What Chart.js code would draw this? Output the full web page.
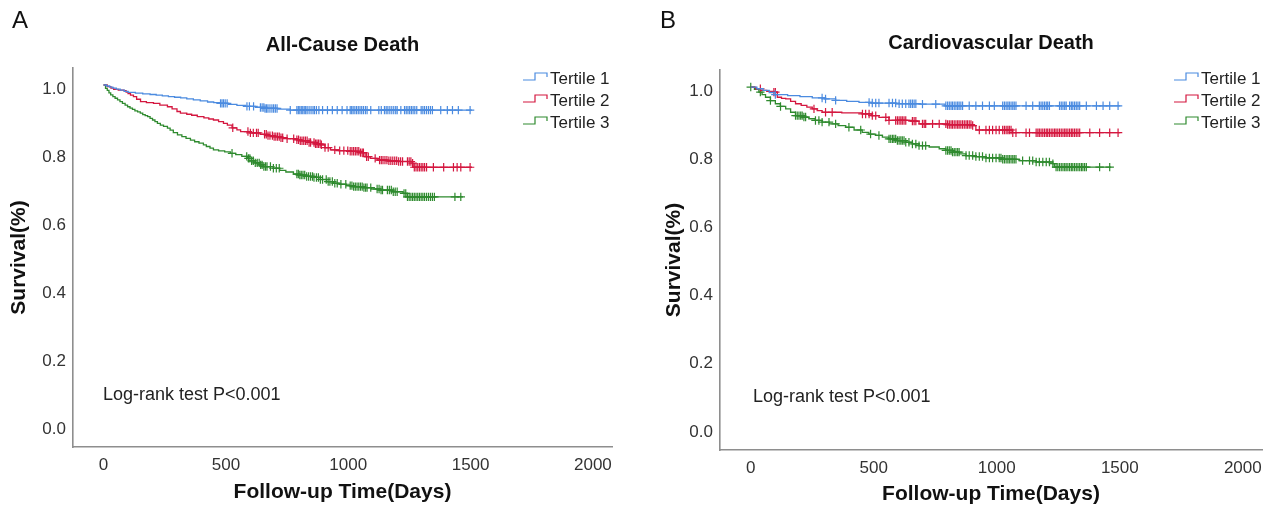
<!DOCTYPE html>
<html><head><meta charset="utf-8">
<script src="https://cdn.jsdelivr.net/npm/chart.js@4.4.1/dist/chart.umd.min.js"></script>
<style>
html,body{margin:0;padding:0;background:#fff;}
#wrap{position:relative;width:1272px;height:507px;overflow:hidden;background:#fff;}
#c1{position:absolute;left:0;top:0;width:650px;height:507px;}
#c2{position:absolute;left:650px;top:0;width:622px;height:507px;}
</style></head><body>
<div id="wrap"><canvas id="c1" width="650" height="507"></canvas><canvas id="c2" width="622" height="507"></canvas></div>
<script>
const seriesNames = ['Tertile 1', 'Tertile 2', 'Tertile 3'];
const seriesColors = ['#4b8be0', '#d4173f', '#2e8a2e'];
const xTicks = [0, 500, 1000, 1500, 2000];
const yTicks = [0, 0.2, 0.4, 0.6, 0.8, 1.0];

// Panel A: All-Cause Death
const acT1Time = [0,12,25,38,52,68,85,100,130,160,190,215,240,265,290,315,340,367,395,425,450,475,510,545,580,620,660,710,763,1506];
const acT1Surv = [1,0.997,0.994,0.991,0.988,0.985,0.981,0.978,0.976,0.974,0.972,0.970,0.968,0.966,0.964,0.962,0.959,0.956,0.953,0.950,0.948,0.946,0.943,0.940,0.937,0.934,0.931,0.929,0.926,0.926];
const acT1Cens = [478,484,490,497,505,586,596,613,641,648,655,660,666,672,680,688,695,702,709,763,790,796,802,808,814,820,826,832,840,848,856,862,870,880,895,915,935,955,975,995,1008,1014,1020,1027,1034,1041,1048,1055,1062,1070,1077,1092,1125,1135,1148,1155,1162,1170,1178,1186,1194,1200,1215,1230,1237,1244,1251,1258,1265,1272,1280,1298,1305,1312,1320,1328,1336,1344,1378,1405,1426,1450,1498];

const acT2Time = [0,15,30,41,60,83,92,100,110,122,135,151,175,204,230,261,280,300,314,340,360,383,410,430,449,470,490,506,525,545,560,600,640,670,694,720,750,780,804,840,865,886,905,927,960,1000,1049,1069,1090,1118,1160,1200,1261,1265,1506];
const acT2Surv = [1,0.995,0.991,0.987,0.985,0.983,0.979,0.975,0.970,0.966,0.958,0.951,0.948,0.946,0.941,0.936,0.930,0.922,0.917,0.914,0.911,0.907,0.903,0.900,0.897,0.892,0.887,0.882,0.874,0.868,0.863,0.859,0.855,0.851,0.848,0.845,0.842,0.839,0.836,0.831,0.827,0.824,0.816,0.809,0.807,0.805,0.801,0.789,0.784,0.779,0.777,0.775,0.770,0.758,0.758];
const acT2Cens = [528,590,600,612,625,632,658,665,672,680,690,697,704,711,718,725,732,750,777,790,797,804,811,818,825,832,840,846,860,866,872,878,885,890,905,918,945,965,982,998,1008,1015,1022,1029,1036,1043,1050,1057,1062,1075,1082,1110,1128,1135,1142,1150,1158,1166,1174,1182,1190,1198,1206,1214,1222,1242,1249,1256,1263,1270,1277,1284,1291,1298,1305,1312,1320,1348,1390,1430,1445,1460,1498];

const acT3Time = [0,8,15,22,29,38,47,57,67,77,88,98,108,118,128,139,150,160,170,180,190,200,210,220,232,245,261,272,285,302,320,337,355,372,390,408,420,435,449,470,495,518,540,565,588,605,620,638,653,694,720,745,776,800,830,857,885,912,939,965,992,1020,1060,1095,1131,1180,1224,1241,1469];
const acT3Surv = [1,0.99,0.984,0.977,0.971,0.966,0.961,0.956,0.951,0.946,0.941,0.936,0.932,0.928,0.924,0.921,0.917,0.913,0.910,0.907,0.902,0.897,0.892,0.887,0.882,0.878,0.873,0.867,0.860,0.853,0.848,0.843,0.838,0.833,0.829,0.824,0.819,0.814,0.809,0.806,0.803,0.799,0.795,0.790,0.784,0.777,0.771,0.765,0.760,0.755,0.749,0.744,0.738,0.735,0.731,0.728,0.722,0.716,0.711,0.708,0.704,0.701,0.698,0.694,0.691,0.686,0.681,0.671,0.671];
const acT3Cens = [525,585,592,598,605,612,620,628,636,642,648,655,662,668,682,694,706,718,790,796,802,808,815,822,830,838,846,854,860,870,878,886,895,910,918,925,935,945,955,970,990,1008,1015,1022,1029,1036,1043,1050,1057,1064,1071,1077,1092,1118,1126,1134,1140,1160,1168,1176,1184,1192,1200,1228,1235,1242,1249,1256,1263,1270,1277,1284,1291,1298,1305,1312,1320,1328,1336,1344,1352,1436,1460];

// Panel B: Cardiovascular Death
const cvT1Time = [0,25,50,75,100,150,200,250,300,345,390,440,490,590,690,790,1502];
const cvT1Surv = [1,0.995,0.99,0.984,0.978,0.975,0.972,0.968,0.965,0.961,0.958,0.955,0.953,0.951,0.95,0.945,0.945];
const cvT1Cens = [100,290,304,345,481,494,508,521,562,576,589,603,616,630,643,650,657,664,671,698,752,793,800,807,814,820,827,834,841,847,854,861,888,915,942,970,990,1024,1031,1038,1045,1051,1058,1065,1071,1078,1119,1146,1173,1180,1187,1194,1201,1207,1214,1255,1262,1269,1276,1282,1296,1303,1309,1316,1323,1330,1337,1364,1405,1432,1459,1493];

const cvT2Time = [0,20,40,65,88,108,125,142,162,182,205,228,250,270,290,370,453,490,521,562,657,684,800,900,915,1064,1502];
const cvT2Surv = [1,0.995,0.99,0.987,0.985,0.97,0.967,0.965,0.958,0.951,0.946,0.941,0.936,0.931,0.926,0.924,0.921,0.916,0.911,0.902,0.9,0.892,0.89,0.887,0.874,0.866,0.866];
const cvT2Cens = [39,94,100,257,304,331,454,467,481,494,508,549,562,589,596,603,610,616,623,630,657,664,671,698,705,711,739,766,793,800,807,814,820,827,834,841,847,854,861,868,875,881,888,895,902,929,956,970,983,997,1010,1024,1031,1038,1045,1051,1058,1065,1078,1119,1133,1160,1167,1173,1180,1187,1194,1201,1207,1214,1221,1228,1235,1241,1248,1255,1262,1269,1276,1282,1289,1296,1303,1309,1316,1323,1330,1337,1378,1418,1459,1493];

const cvT3Time = [0,15,33,46,60,80,100,120,142,162,182,210,236,262,290,320,355,386,420,453,480,508,535,562,596,630,657,684,725,766,793,820,848,875,915,956,1020,1092,1160,1227,1234,1465];
const cvT3Surv = [1,0.993,0.985,0.978,0.97,0.96,0.951,0.943,0.936,0.926,0.916,0.912,0.907,0.902,0.897,0.892,0.887,0.882,0.874,0.867,0.862,0.858,0.853,0.848,0.843,0.838,0.833,0.828,0.824,0.819,0.814,0.809,0.804,0.799,0.796,0.792,0.788,0.784,0.780,0.775,0.765,0.765];
const cvT3Cens = [0,39,80,121,182,189,196,203,209,216,223,263,277,290,318,345,399,447,487,521,562,569,576,582,589,596,603,610,616,623,630,643,657,671,684,698,711,793,800,807,814,820,827,834,841,847,875,888,902,915,929,942,956,970,983,997,1010,1017,1024,1031,1038,1045,1051,1058,1065,1071,1078,1105,1133,1146,1160,1173,1187,1201,1214,1228,1241,1248,1255,1262,1269,1276,1282,1289,1296,1303,1309,1316,1323,1330,1337,1344,1350,1357,1364,1418,1459];

const FONT = "'Liberation Sans', Arial, sans-serif";

function survAt(times, surv, t) {
  let s = surv[0];
  for (let i = 0; i < times.length; i++) { if (times[i] <= t) s = surv[i]; else break; }
  return s;
}

function buildDatasets(groups) {
  const ds = [];
  groups.forEach((g, i) => {
    ds.push({
      label: seriesNames[i],
      data: g.time.map((t, k) => ({x: t, y: g.surv[k]})),
      showLine: true, stepped: 'before',
      borderColor: seriesColors[i], borderWidth: 1.3,
      pointRadius: 0, pointHoverRadius: 0, fill: false
    });
  });
  groups.forEach((g, i) => {
    ds.push({
      label: seriesNames[i] + ' censored',
      data: g.cens.map(t => ({x: t, y: survAt(g.time, g.surv, t)})),
      showLine: false, pointStyle: 'cross', pointRadius: 4.2, pointHoverRadius: 0,
      borderColor: seriesColors[i], backgroundColor: seriesColors[i], borderWidth: 1.2
    });
  });
  return ds;
}

const decor = {
  id: 'decor',
  afterDraw(chart, args, o) {
    const ctx = chart.ctx;
    ctx.save();
    ctx.fillStyle = '#111';
    ctx.textBaseline = 'middle';
    ctx.textAlign = 'left';
    ctx.font = '24px ' + FONT;
    ctx.fillText(o.letter, o.letterX, o.letterY);
    ctx.font = '18px ' + FONT;
    ctx.fillStyle = '#222';
    ctx.fillText(o.logText, o.logX, o.logY);
    ctx.font = '17px ' + FONT;
    seriesNames.forEach((n, i) => {
      const y = o.legY[i];
      const x0 = o.legX;
      ctx.strokeStyle = seriesColors[i];
      ctx.lineWidth = 1.2;
      ctx.beginPath();
      ctx.moveTo(x0, y + 2);
      ctx.lineTo(x0 + 12, y + 2);
      ctx.lineTo(x0 + 12, y - 5);
      ctx.lineTo(x0 + 24, y - 5);
      ctx.lineTo(x0 + 24, y - 1);
      ctx.stroke();
      ctx.fillStyle = '#222';
      ctx.fillText(n, x0 + 27, y + 1);
    });
    ctx.restore();
  }
};

function makeChart(id, cfg) {
  return new Chart(document.getElementById(id), {
    type: 'scatter',
    data: {datasets: buildDatasets(cfg.groups)},
    plugins: [decor],
    options: {
      responsive: false, animation: false, events: [],
      layout: {padding: {top: cfg.padTop, left: 0, right: cfg.padRight, bottom: 0}},
      plugins: {
        legend: {display: false}, tooltip: {enabled: false},
        title: {display: true, text: cfg.title, fullSize: false, color: '#111',
          font: {family: FONT, size: 20, weight: 'bold'}, padding: {top: cfg.tPadTop, bottom: cfg.tPadBottom}},
        decor: cfg.decor
      },
      scales: {
        x: {
          type: 'linear', min: -125, max: 2078,
          afterBuildTicks: s => { s.ticks = xTicks.map(v => ({value: v})); },
          afterFit: s => { s.height = cfg.xHeight; },
          grid: {display: false, drawTicks: false},
          border: {display: true, color: '#8e8e8e', width: 1.6},
          ticks: {color: '#333', font: {family: FONT, size: 17}, padding: 8, maxRotation: 0, autoSkip: false,
            callback: v => String(v)},
          title: {display: true, text: 'Follow-up Time(Days)', color: '#111',
            font: {family: FONT, size: 21, weight: 'bold'}, padding: {top: 0, bottom: cfg.xtPad}}
        },
        y: {
          type: 'linear', min: -0.065, max: 1.05,
          afterBuildTicks: s => { s.ticks = yTicks.map(v => ({value: v})); },
          afterFit: s => { s.width = cfg.yWidth; },
          grid: {display: false, drawTicks: false},
          border: {display: true, color: '#8e8e8e', width: 1.6},
          ticks: {color: '#333', font: {family: FONT, size: 17}, padding: 7, labelOffset: 4,
            callback: v => Number(v).toFixed(1)},
          title: {display: true, text: 'Survival(%)', color: '#111',
            font: {family: FONT, size: 21, weight: 'bold'}, padding: {top: cfg.ytPad, bottom: 0}}
        }
      }
    }
  });
}

makeChart('c1', {
  title: 'All-Cause Death',
  groups: [
    {time: acT1Time, surv: acT1Surv, cens: acT1Cens},
    {time: acT2Time, surv: acT2Surv, cens: acT2Cens},
    {time: acT3Time, surv: acT3Surv, cens: acT3Cens}
  ],
  padTop: 22, padRight: 38, tPadTop: 11, tPadBottom: 11,
  xHeight: 60, xtPad: 2, yWidth: 73, ytPad: 7,
  decor: {letter: 'A', letterX: 12, letterY: 21, logText: 'Log-rank test P<0.001', logX: 103, logY: 395,
    legX: 523, legY: [78, 100, 122]}
});

makeChart('c2', {
  title: 'Cardiovascular Death',
  groups: [
    {time: cvT1Time, surv: cvT1Surv, cens: cvT1Cens},
    {time: cvT2Time, surv: cvT2Surv, cens: cvT2Cens},
    {time: cvT3Time, surv: cvT3Surv, cens: cvT3Cens}
  ],
  padTop: 20, padRight: 10, tPadTop: 11, tPadBottom: 15,
  xHeight: 57, xtPad: 0, yWidth: 70, ytPad: 12,
  decor: {letter: 'B', letterX: 10, letterY: 21, logText: 'Log-rank test P<0.001', logX: 103, logY: 397,
    legX: 524, legY: [78, 100, 122]}
});
</script>
</body></html>
